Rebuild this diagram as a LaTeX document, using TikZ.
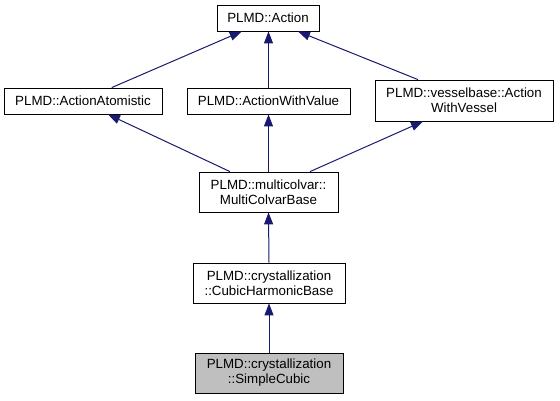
\documentclass[tikz,border=0pt]{standalone}
\usepackage{fontspec}
\setmainfont{Liberation Sans}
\usetikzlibrary{arrows.meta}
\definecolor{edgeblue}{HTML}{191970}
\definecolor{leafgray}{HTML}{BFBFBF}
\begin{document}
\begin{tikzpicture}[x=1pt,y=-1pt,
  cls/.style={draw=black, line width=0.8pt, inner sep=0pt, align=center,
    font=\fontsize{13.33}{15}\selectfont, fill=white},
  inh/.style={draw=edgeblue, line width=1pt, -{Triangle[length=12pt,width=9pt]}}]
\useasboundingbox (0,0) rectangle (560,400);
\node[cls, minimum width=102pt, minimum height=26pt] (act) at (268,18) {PLMD::Action};
\node[cls, minimum width=158pt, minimum height=26pt] (atom) at (83,101) {PLMD::ActionAtomistic};
\node[cls, minimum width=163pt, minimum height=26pt] (val) at (268.5,101) {PLMD::ActionWithValue};
\node[cls, minimum width=178pt, minimum height=41pt] (ves) at (464,100.5) {PLMD::vesselbase::Action\\WithVessel};
\node[cls, minimum width=139pt, minimum height=40pt] (multi) at (268.5,192) {PLMD::multicolvar::\\MultiColvarBase};
\node[cls, minimum width=152pt, minimum height=40pt] (cubic) at (269,283) {PLMD::crystallization\\::CubicHarmonicBase};
\node[cls, fill=leafgray, minimum width=148pt, minimum height=40pt] (simple) at (269,373) {PLMD::crystallization\\::SimpleCubic};
\draw[inh] ([xshift=28.7pt]atom.north) -- ([xshift=-26.3pt]act.south);
\draw[inh] (val.north) -- (val.north |- act.south);
\draw[inh] ([xshift=-46pt]ves.north) -- ([xshift=30pt]act.south);
\draw[inh] ([xshift=-38.5pt]multi.north) -- ([xshift=25pt]atom.south);
\draw[inh] (multi.north -| val.south) -- (val.south);
\draw[inh] ([xshift=41.5pt]multi.north) -- ([xshift=-41pt]ves.south);
\draw[inh] (cubic.north) -- (multi.south);
\draw[inh] (simple.north) -- (cubic.south);
\end{tikzpicture}
\end{document}
